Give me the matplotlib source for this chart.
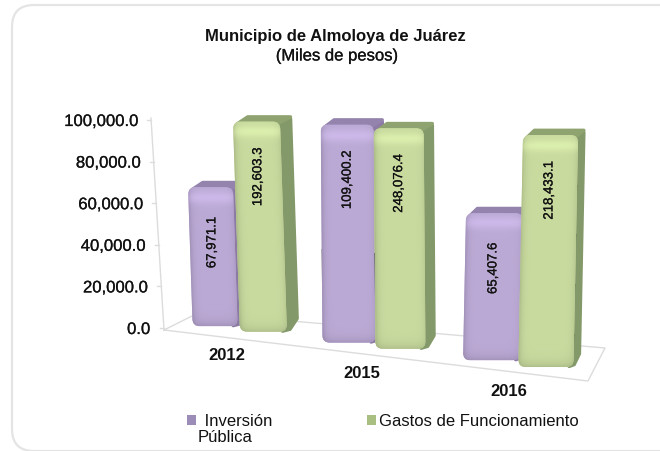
import numpy as np
import matplotlib
matplotlib.use('Agg')
import matplotlib.pyplot as plt
import matplotlib.patheffects as pe
from matplotlib.patches import FancyBboxPatch, Polygon, Patch
from matplotlib.colors import to_rgb
from matplotlib.transforms import Affine2D

plt.rcParams['font.family'] = ['Liberation Sans', 'DejaVu Sans']

years = ['2012', '2015', '2016']
series = [' Inversión', 'Gastos de Funcionamiento']
# height of the bars as read against the axis
inversion = [66800, 104800, 70700]
gastos = [101000, 106000, 111500]
# printed labels, they don't follow the axis
inversion_labels = ['67,971.1', '109,400.2', '65,407.6']
gastos_labels = ['192,603.3', '248,076.4', '218,433.1']
yticks = [0, 20000, 40000, 60000, 80000, 100000]

W, H = 660, 451
L, R, B, T = 162, 600, 328, 120     # axes box, pixels
UX = 145.0                          # pixels per category
UY = (B - T) / 100000.0             # pixels per peso
centers = [0, 0.97, 2]              # perspective spreads the groups a bit
w_in = [0.31, 0.365, 0.393]
w_ga = [0.324, 0.345, 0.38]
depth = [15, 13, 10]
lean = [0.033, 0.008, -0.02]        # bars lean towards the middle of the floor
bold = [pe.withStroke(linewidth=0.2, foreground='#222222')]


def shade(color, w, h):
    xs = np.arange(w)[None, :]
    d = np.arange(h)[:, None]
    f = 1 + 0.09 * np.exp(-((d - 10) / 6.0) ** 2)
    f = f * (1 - 0.13 * np.exp(-xs / 3.0)) * (1 - 0.07 * np.exp(-(w - 1 - xs) / 3.0))
    f = f * (1 - 0.12 * np.exp(-(h - 1 - d) / 5.0))
    return np.clip(np.dstack([f * c for c in to_rgb(color)]), 0, 1)


def bar(ax, cx, left, width, h, dx, k, cols, z):
    x0, x1 = cx + left, cx + left + width
    base = 480 - (cx + left + width / 2 + 0.11) * 0.12 * UX / UY
    top = base + h
    # shear the whole bar around its top edge
    a = k * UY / UX
    tr = Affine2D.from_values(1, 0, -a, 1, a * top, 0) + ax.transData
    ddx, ddy = dx / UX, 6 / UY
    r = 0.03
    ax.add_patch(Polygon([(x1 - r, top - 1500), (x1 - r + ddx, top + ddy - 1500),
                          (x1 + ddx - r, base + ddy + 3500), (x1 + ddx * 0.5 - r, base + 1200),
                          (x1 - r, base + 300)],
                         closed=True, fc=cols[1], ec=cols[1], lw=2.5, joinstyle='round',
                         zorder=z, clip_on=False, transform=tr))
    ax.add_patch(Polygon([(x0 + 0.03, top - 1000), (x0 + 0.03 + ddx * 0.7, top + ddy - 600),
                          (x1 - r + ddx, top + ddy - 600), (x1 - 0.02, top - 1000)],
                         closed=True, fc=cols[2], ec=cols[2], lw=2.5, joinstyle='round',
                         zorder=z, clip_on=False, transform=tr))
    pad = 0.035
    face = FancyBboxPatch((x0 + pad, base + pad * UX / UY), width - 2 * pad, h - 2 * pad * UX / UY,
                          boxstyle='round,pad=%f,rounding_size=0.05' % pad,
                          mutation_aspect=UX / UY, fc=cols[0], ec='none', zorder=z + 0.1,
                          clip_on=False, transform=tr)
    ax.add_patch(face)
    im = ax.imshow(shade(cols[0], max(int(width * UX), 2), max(int(h * UY), 2)),
                   extent=(x0, x1, base, top), aspect='auto', zorder=z + 0.2,
                   interpolation='bilinear', transform=tr)
    im.set_clip_box(ax.figure.bbox)
    im.set_clip_path(face)
    # label sits 55 px under the top, follow the lean there
    return (x0 + x1) / 2 + k * 55 / UX, top


fig = plt.figure(figsize=(W / 100, H / 100), dpi=100)

# card behind the chart
bg = fig.add_axes([0, 0, 1, 1])
bg.set_xlim(0, W)
bg.set_ylim(H, 0)
bg.axis('off')
bg.add_patch(FancyBboxPatch((34, 27), W, H - 49, boxstyle='round,pad=22,rounding_size=22',
                            fc='white', ec='#e4e4e4', lw=1.6))

ax = fig.add_axes([L / W, 1 - B / H, (R - L) / W, (B - T) / H])
ax.patch.set_alpha(0)
ax.set_yticks(yticks)
ax.set_yticklabels(['%s.0' % format(t, ',') for t in yticks], fontsize=12, color='#111111',
                   path_effects=bold)
ax.tick_params(axis='y', length=0)
for i, tick in enumerate(ax.yaxis.get_major_ticks()):
    tick.set_pad(8.6 + 8.7 * i / 5)
ax.set_xticks([])
for s in ax.spines.values():
    s.set_visible(False)

# walls and floor
line = dict(color='#dcdcdc', lw=1.0, clip_on=False, zorder=1)
bg.plot([151, 164], [118, 330], **line)
bg.plot([164, 198, 605, 588, 164], [330, 313, 348, 381, 330], **line)
for t in yticks:
    wall_x = 164 - 13 * t / 100000.0
    bg.plot([wall_x - 4, wall_x], [B - t * UY, B - t * UY], **line)

purple = ['#bcaad6', '#8d7ba6', '#9483ad']
green = ['#c9db9f', '#84996a', '#8fa370']

year_px = [(227, 356), (362, 373), (509, 391)]
for i in range(3):
    cx, top = bar(ax, centers[i], -w_in[i], w_in[i], inversion[i], depth[i], lean[i], purple, 3 + i * 2)
    ax.text(cx, top - 55 / UY, inversion_labels[i], rotation=90, ha='center', va='center',
            fontsize=9.5, color='#111111', zorder=20, clip_on=False, path_effects=bold)
    cx, top = bar(ax, centers[i], 0, w_ga[i], gastos[i], depth[i], lean[i], green, 4 + i * 2)
    ax.text(cx, top - 55 / UY, gastos_labels[i], rotation=90, ha='center', va='center',
            fontsize=9.5, color='#111111', zorder=20, clip_on=False, path_effects=bold)
    bg.text(year_px[i][0], year_px[i][1], years[i], ha='center', va='center', fontsize=12,
            fontweight='bold', color='#111111')

ax.set_xlim((L - 233) / UX, (R - 233) / UX)
ax.set_ylim(0, 100000)

fig.text(335 / W, 1 - 37 / H, 'Municipio de Almoloya de Juárez', ha='center', va='center',
         fontsize=12, fontweight='bold', color='#111111')
fig.text(337 / W, 1 - 56 / H, '(Miles de pesos)', ha='center', va='center', fontsize=12,
         color='#111111', path_effects=bold)

handles = [Patch(fc='#9c8cb8', ec='none'), Patch(fc='#a9bf82', ec='none')]
fig.legend(handles, series, loc='upper left', bbox_to_anchor=(187 / W, 1 - 414 / H), ncol=2,
           frameon=False, fontsize=12, handlelength=0.55, handleheight=0.55, handletextpad=0.2,
           columnspacing=5.7, borderpad=0, borderaxespad=0, labelcolor='#111111')
fig.text(198 / W, 1 - 438 / H, 'Pública', ha='left', va='center', fontsize=12, color='#111111')

fig.savefig('out.png', dpi=100)
